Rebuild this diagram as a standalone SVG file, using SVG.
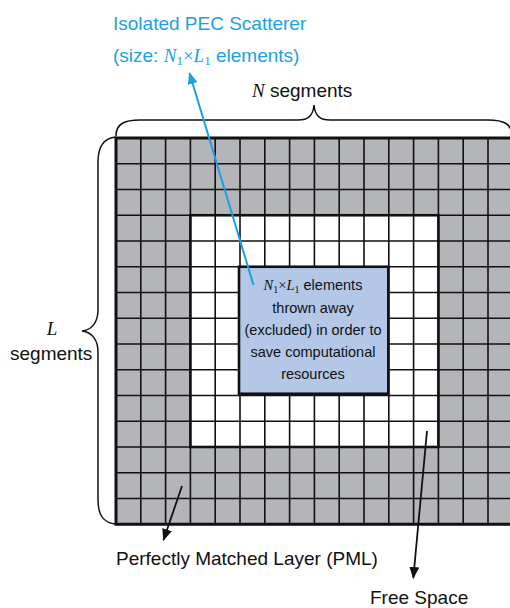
<svg xmlns="http://www.w3.org/2000/svg" width="510" height="608" viewBox="0 0 510 608">
<style>
.t{font-family:"Liberation Sans",Arial,sans-serif;font-size:19px;fill:#111}
.c{fill:#1ba1e2}
.b{font-family:"Liberation Sans",Arial,sans-serif;font-size:14.5px;fill:#111;text-anchor:middle}
.m{font-family:"Liberation Serif","Times New Roman",serif;font-style:italic}
.s{font-family:"Liberation Serif","Times New Roman",serif;font-style:normal}
.g{stroke:#111;stroke-width:1.6}
.brace{fill:none;stroke:#111;stroke-width:1.5}
</style>
<defs>
<marker id="ahk" markerUnits="userSpaceOnUse" markerWidth="14" markerHeight="12" refX="11" refY="5" orient="auto"><path d="M0,0 L12,5 L0,10 z" fill="#111"/></marker>
<marker id="ahc" markerUnits="userSpaceOnUse" markerWidth="14" markerHeight="12" refX="11" refY="5" orient="auto"><path d="M0,0 L12,5 L0,10 z" fill="#1ba1e2"/></marker>
</defs>
<rect width="510" height="608" fill="#fff"/>
<g id="pml">
<rect x="116" y="138" width="396.8" height="386.25" fill="#b4b5b9"/>
</g>
<g id="free-space">
<rect x="190.4" y="215.25" width="248" height="231.75" fill="#fff"/>
</g>
<g id="grid">
<path class="g" d="M140.8,138V524.25M165.6,138V524.25M190.4,138V524.25M215.2,138V524.25M240,138V524.25M264.8,138V524.25M289.6,138V524.25M314.4,138V524.25M339.2,138V524.25M364,138V524.25M388.8,138V524.25M413.6,138V524.25M438.4,138V524.25M463.2,138V524.25M488,138V524.25"/>
<path class="g" d="M116,163.75H513M116,189.5H513M116,215.25H513M116,241H513M116,266.75H513M116,292.5H513M116,318.25H513M116,344H513M116,369.75H513M116,395.5H513M116,421.25H513M116,447H513M116,472.75H513M116,498.5H513"/>
<rect x="190.4" y="215.25" width="248" height="231.75" fill="none" stroke="#111" stroke-width="2.6"/>
<rect x="116" y="138" width="396.8" height="386.25" fill="none" stroke="#111" stroke-width="3"/>
</g>
<g id="excluded">
<rect x="239" y="266.75" width="149.3" height="127" fill="#b4c7e7" stroke="#111" stroke-width="2.6"/>
<text class="b" x="313" y="290"><tspan class="m">N</tspan><tspan class="s" font-size="10" dy="2.5">1</tspan><tspan class="s" dy="-2.5">×</tspan><tspan class="m">L</tspan><tspan class="s" font-size="10" dy="2.5">1</tspan><tspan dy="-2.5"> elements</tspan></text>
<text class="b" x="313" y="313">thrown away</text>
<text class="b" x="313" y="335">(excluded) in order to</text>
<text class="b" x="313" y="357">save computational</text>
<text class="b" x="313" y="379">resources</text>
</g>
<g id="brace-n">
<path class="brace" d="M116,136 C116,124 124,120 140,120 L298,120 C308,120 313,116 314,105 C315,116 320,120 330,120 L488,120 C504,120 512,124 512,136"/>
<text class="t" x="252" y="97"><tspan class="m">N</tspan> segments</text>
</g>
<g id="brace-l">
<path class="brace" d="M116,137 C104,138 98,146 98,162 L98,310 C98,322 92,330 82,331 C92,332 98,340 98,352 L98,500 C98,516 104,523 116,524"/>
<text class="t" x="52" y="335" text-anchor="middle"><tspan class="m">L</tspan></text>
<text class="t" x="10" y="360">segments</text>
</g>
<g id="scatterer-label">
<text class="t c" x="113" y="30">Isolated PEC Scatterer</text>
<text class="t c" x="113" y="62">(size: <tspan class="m">N</tspan><tspan class="s" font-size="13" dy="3">1</tspan><tspan class="s" dy="-3">×</tspan><tspan class="m">L</tspan><tspan class="s" font-size="13" dy="3">1</tspan><tspan dy="-3"> elements)</tspan></text>
</g>
<g id="pml-label">
<text class="t" x="116" y="565">Perfectly Matched Layer (PML)</text>
</g>
<g id="free-space-label">
<text class="t" x="370" y="604">Free Space</text>
</g>
<g id="connectors">
<line x1="253.5" y1="285" x2="189.5" y2="73" stroke="#1ba1e2" stroke-width="2" marker-end="url(#ahc)"/>
<line x1="182" y1="486" x2="163.5" y2="540" stroke="#111" stroke-width="1.8" marker-end="url(#ahk)"/>
<line x1="427" y1="431" x2="413.3" y2="578" stroke="#111" stroke-width="1.8" marker-end="url(#ahk)"/>
</g>
</svg>
